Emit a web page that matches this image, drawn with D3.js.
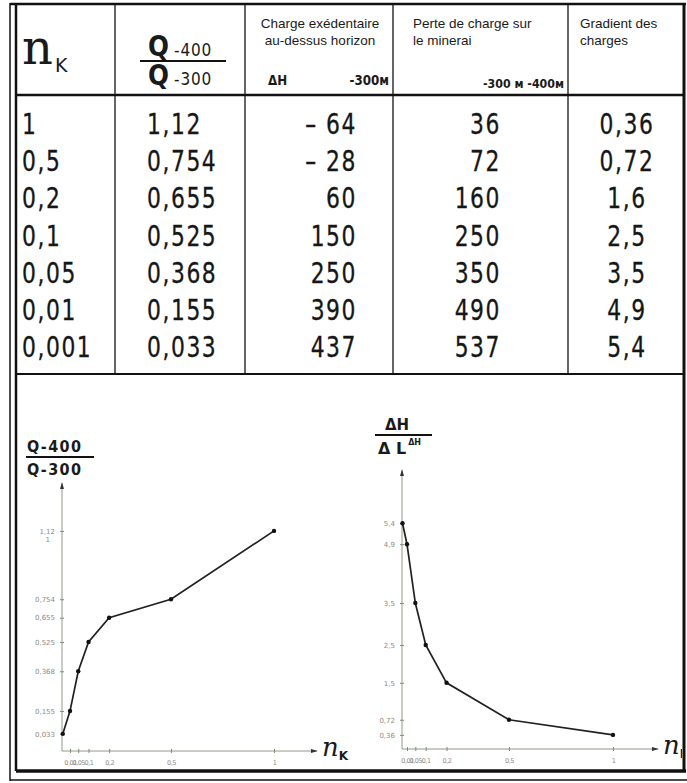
<!DOCTYPE html>
<html>
<head>
<meta charset="utf-8">
<script src="https://cdn.jsdelivr.net/npm/d3@7"></script>
<style>
  body { margin: 0; background: #fff; }
  .num { font-family: "DejaVu Sans", sans-serif; font-size: 28px; fill: #161616; letter-spacing: 2px; stroke: #161616; stroke-width: 0.3px; }
  .hd { font-family: "Liberation Sans", Arial, sans-serif; font-size: 13.5px; fill: #1a1a1a; }
  .hdb { font-family: "DejaVu Sans", sans-serif; font-weight: bold; fill: #1a1a1a; }
  .tick text { font-family: "DejaVu Sans", sans-serif; font-size: 7px; fill: #8a8a86; }
  .tick line { stroke: #7d8a78; }
</style>
</head>
<body>
<div id="chart"></div>
<script>
// table columns
const nK = [1, 0.5, 0.2, 0.1, 0.05, 0.01, 0.001];
const ratioQ = [1.12, 0.754, 0.655, 0.525, 0.368, 0.155, 0.033];
const chargeExc = [-64, -28, 60, 150, 250, 390, 437];
const perteCharge = [36, 72, 160, 250, 350, 490, 537];
const gradient = [0.36, 0.72, 1.6, 2.5, 3.5, 4.9, 5.4];

// chart ticks
const xTicks = [0.01, 0.05, 0.1, 0.2, 0.5, 1];
const xTickLabels = ["0,01", "0,05", "0,1", "0,2", "0,5", "1"];
const yTicksRight = [5.4, 4.9, 3.5, 2.5, 1.6, 0.72, 0.36];
const yTickLabelsRight = ["5,4", "4,9", "3,5", "2,5", "1,5", "0,72", "0,36"];

const width = 687, height = 783;
const comma = v => String(v).replace(".", ",");
const narrow = (x, y, k) => `translate(${x},${y}) scale(${k},1)`;

const svg = d3.select("#chart").append("svg")
    .attr("width", width)
    .attr("height", height);

svg.append("defs").append("marker")
    .attr("id", "arrow")
    .attr("viewBox", "0 0 10 10")
    .attr("refX", 9).attr("refY", 5)
    .attr("markerWidth", 7).attr("markerHeight", 7)
    .attr("orient", "auto")
    .append("path")
    .attr("d", "M0,2 L10,5 L0,8 Z")
    .attr("fill", "#333");

svg.select("defs").append("clipPath")
    .attr("id", "inside")
    .append("rect")
    .attr("x", 0).attr("y", 0).attr("width", 682).attr("height", 770);

// frame and table grid
const line = (x1, y1, x2, y2, w) => svg.append("line")
    .attr("x1", x1).attr("y1", y1).attr("x2", x2).attr("y2", y2)
    .attr("stroke", "#111").attr("stroke-width", w);

line(10, 3, 10, 781, 1.5);
line(16, 4, 16, 771, 2.5);
line(10, 4, 686, 4, 2.5);
line(684, 4, 684, 772, 3);
line(16, 771, 686, 771, 3.5);
line(10, 780, 687, 780, 1.5);
line(16, 95, 684, 95, 2.5);
line(16, 374, 684, 374, 2.2);
[115, 245, 393, 568].forEach(x => line(x, 4, x, 374, 1.3));

// header
const hdr = svg.append("g");
const nk = hdr.append("text").attr("x", 22).attr("y", 64);
nk.append("tspan").text("n")
    .style("font-family", "'DejaVu Serif', serif").style("font-size", "48px").attr("fill", "#1a1a1a");
nk.append("tspan").text("K").attr("dy", 8).attr("dx", 2)
    .style("font-family", "'DejaVu Sans', sans-serif").style("font-size", "19px").attr("fill", "#1a1a1a");

const frac = (x, y, sub) => {
  const t = hdr.append("text").attr("transform", narrow(x, y, 0.85)).attr("class", "hdb");
  t.append("tspan").text("Q").style("font-size", "29px");
  t.append("tspan").text(sub).attr("dx", 6).style("font-size", "18px").style("font-weight", "normal").style("letter-spacing", "1px");
};
frac(148, 56, "-400");
frac(148, 85, "-300");
line(140, 61, 226, 61, 2.2);

hdr.append("text").attr("class", "hd").attr("x", 320).attr("y", 28).attr("text-anchor", "middle").text("Charge exédentaire");
hdr.append("text").attr("class", "hd").attr("x", 320).attr("y", 45).attr("text-anchor", "middle").text("au-dessus horizon");
hdr.append("text").attr("class", "hdb").attr("transform", narrow(268, 85, 0.85)).style("font-size", "14px").text("ΔH");
hdr.append("text").attr("class", "hdb").attr("transform", narrow(389, 85, 0.85)).attr("text-anchor", "end").style("font-size", "14px").text("-300м");
hdr.append("text").attr("class", "hdb").attr("transform", narrow(564, 88, 0.85)).attr("text-anchor", "end").style("font-size", "13px").text("-300 м -400м");
hdr.append("text").attr("class", "hd").attr("x", 413).attr("y", 28).text("Perte de charge sur");
hdr.append("text").attr("class", "hd").attr("x", 413).attr("y", 45).text("le minerai");
hdr.append("text").attr("class", "hd").attr("x", 580).attr("y", 28).text("Gradient  des");
hdr.append("text").attr("class", "hd").attr("x", 580).attr("y", 45).text("charges");

// table rows
const rowY = d3.scaleLinear().domain([0, 6]).range([134, 357]);
const fmtSigned = v => v < 0 ? "– " + Math.abs(v) : String(v);
const cols = [
  { vals: nK, x: 22, anchor: "start", fmt: comma },
  { vals: ratioQ, x: 147, anchor: "start", fmt: comma },
  { vals: chargeExc, x: 357, anchor: "end", fmt: fmtSigned },
  { vals: perteCharge, x: 501, anchor: "end", fmt: String },
  { vals: gradient, x: 627, anchor: "middle", fmt: comma }
];
cols.forEach(c => {
  svg.append("g").selectAll("text")
      .data(c.vals)
      .enter()
      .append("text")
      .attr("class", "num")
      .attr("transform", (d, i) => narrow(c.x, rowY(i), 0.78))
      .attr("text-anchor", c.anchor)
      .text(c.fmt);
});

// charts
function drawChart(o) {
  const g = svg.append("g");
  const x = d3.scaleLinear().domain([0, 0.01, 1]).range(o.xRange);
  const y = d3.scaleLinear().domain([0, o.yMax]).range(o.yRange);

  g.append("line")
      .attr("x1", o.x0).attr("y1", o.y0).attr("x2", o.x0).attr("y2", o.yTop)
      .attr("stroke", "#8e9a88").attr("stroke-width", 1).attr("marker-end", "url(#arrow)");
  g.append("line")
      .attr("x1", o.x0).attr("y1", o.y0).attr("x2", o.xEnd).attr("y2", o.y0)
      .attr("stroke", "#8e9a88").attr("stroke-width", 1).attr("marker-end", "url(#arrow)");

  const xa = g.append("g")
      .attr("transform", `translate(0,${o.y0})`)
      .call(d3.axisBottom(x).tickValues(xTicks).tickSize(3).tickPadding(6)
          .tickFormat((d, i) => xTickLabels[i]));
  xa.select(".domain").remove();
  xa.selectAll(".tick line").attr("y1", -2).attr("y2", 2);
  xa.selectAll(".tick text").style("letter-spacing", "-0.5px").style("font-size", "6.5px");

  const ya = g.append("g")
      .attr("transform", `translate(${o.x0},0)`)
      .call(d3.axisLeft(y).tickValues(o.yTicks).tickSize(3).tickPadding(4)
          .tickFormat((d, i) => o.yLabels[i]));
  ya.select(".domain").remove();
  ya.selectAll(".tick line").attr("x1", -2).attr("x2", 2);

  const pts = nK.map((n, i) => [n, o.vals[i]]);
  g.append("path")
      .datum(pts)
      .attr("fill", "none")
      .attr("stroke", "#202020")
      .attr("stroke-width", 1.7)
      .attr("d", d3.line().x(d => x(d[0])).y(d => y(d[1])));
  g.selectAll("circle")
      .data(pts)
      .enter()
      .append("circle")
      .attr("cx", d => x(d[0]))
      .attr("cy", d => y(d[1]))
      .attr("r", 2.2)
      .attr("fill", "#111");

  const lab = g.append("text").attr("x", o.xEnd + 5).attr("y", o.y0 + 5).attr("clip-path", "url(#inside)");
  lab.append("tspan").text("n")
      .style("font-family", "'DejaVu Serif', serif").style("font-style", "italic").style("font-size", "26px").attr("fill", "#1a1a1a");
  lab.append("tspan").text("K").attr("dy", 4)
      .style("font-family", "'DejaVu Sans', sans-serif").style("font-weight", "bold").style("font-size", "12px").attr("fill", "#1a1a1a");
  return { x, y, g };
}

const left = drawChart({
  x0: 62, y0: 751, yTop: 483, xEnd: 317,
  xRange: [62, 70, 274], yRange: [740, 553.3], yMax: 1,
  vals: ratioQ, yTicks: ratioQ, yLabels: ratioQ.map(comma)
});
left.g.selectAll(".tick text").filter(d => d === 1.12)
    .append("tspan").attr("x", -12).attr("dy", 8).text("1");

drawChart({
  x0: 402, y0: 749, yTop: 470, xEnd: 658,
  xRange: [402, 407, 613], yRange: [750, 523.2], yMax: 5.4,
  vals: gradient, yTicks: yTicksRight, yLabels: yTickLabelsRight
});

// y axis titles
const yt = svg.append("g").attr("class", "hdb");
yt.append("text").attr("transform", narrow(27, 452, 0.9)).style("font-size", "16px").style("letter-spacing", "1.5px").text("Q-400");
yt.append("line").attr("x1", 26).attr("y1", 457).attr("x2", 94).attr("y2", 457).attr("stroke", "#111").attr("stroke-width", 2);
yt.append("text").attr("transform", narrow(27, 475, 0.9)).style("font-size", "16px").style("letter-spacing", "1.5px").text("Q-300");

yt.append("text").attr("x", 385).attr("y", 430).style("font-size", "15px").text("ΔH");
yt.append("line").attr("x1", 375).attr("y1", 435).attr("x2", 432).attr("y2", 435).attr("stroke", "#111").attr("stroke-width", 1.8);
const dl = yt.append("text").attr("x", 378).attr("y", 454).style("font-size", "16px");
dl.append("tspan").text("Δ L");
dl.append("tspan").text("ΔH").attr("dy", -9).attr("dx", 2).style("font-size", "8px");
</script>
</body>
</html>
